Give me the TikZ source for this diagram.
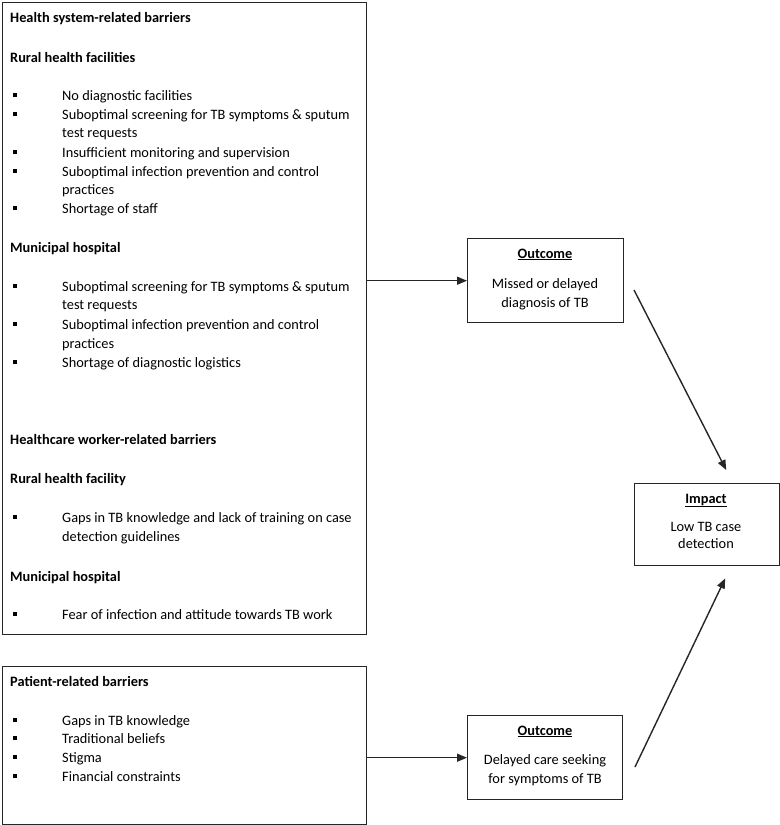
\documentclass[tikz,border=0pt]{standalone}
\usepackage{fontspec}
\setmainfont{Carlito}
\usetikzlibrary{arrows.meta}
\begin{document}
\begin{tikzpicture}[x=1bp,y=-1bp,
  txt/.style={anchor=west, inner sep=0pt, yshift=-1.5bp, font=\fontsize{14.4}{17}\selectfont, text height=10bp, text depth=3bp},
  hd/.style={txt, font=\fontsize{14.4}{17}\selectfont\bfseries},
  ctxt/.style={txt, anchor=center},
  chd/.style={hd, anchor=center},
  bul/.style={fill=black, minimum size=4.5bp, inner sep=0pt},
  box/.style={draw=black!85, line width=1.4bp, inner sep=0pt, anchor=north west},
  arr/.style={draw=black!85, line width=1.4bp, -{Triangle[length=10bp,width=8bp]}}
]
\useasboundingbox (0,0) rectangle (780,825);
% boxes
\node[box, minimum width=364bp, minimum height=632bp] (hs) at (2,2) {};
\node[box, minimum width=364bp, minimum height=158bp] (pt) at (2,666) {};
\node[box, minimum width=156bp, minimum height=84bp] (o1) at (467,238) {};
\node[box, minimum width=155bp, minimum height=84bp] (o2) at (467,715) {};
\node[box, minimum width=145bp, minimum height=82bp] (imp) at (634,483) {};

% health system box text
\node[hd] (h1) at (10,17) {Health system-related barriers};
\node[hd] (h2) at (10,57) {Rural health facilities};
\node[bul] (b1) at (15,95) {};  \node[txt] (t1) at (62,95) {No diagnostic facilities};
\node[bul] (b2) at (15,114) {}; \node[txt] (t2) at (62,114) {Suboptimal screening for TB symptoms \& sputum};
\node[txt] (t2b) at (62,132) {test requests};
\node[bul] (b3) at (15,152) {}; \node[txt] (t3) at (62,152) {Insufficient monitoring and supervision};
\node[bul] (b4) at (15,171) {}; \node[txt] (t4) at (62,171) {Suboptimal infection prevention and control};
\node[txt] (t4b) at (62,189) {practices};
\node[bul] (b5) at (15,208) {}; \node[txt] (t5) at (62,208) {Shortage of staff};

\node[hd] (h3) at (10,247) {Municipal hospital};
\node[bul] (b6) at (15,286) {}; \node[txt] (t6) at (62,286) {Suboptimal screening for TB symptoms \& sputum};
\node[txt] (t6b) at (62,304) {test requests};
\node[bul] (b7) at (15,324) {}; \node[txt] (t7) at (62,324) {Suboptimal infection prevention and control};
\node[txt] (t7b) at (62,343) {practices};
\node[bul] (b8) at (15,362) {}; \node[txt] (t8) at (62,362) {Shortage of diagnostic logistics};

\node[hd] (h4) at (10,439) {Healthcare worker-related barriers};
\node[hd] (h5) at (10,478) {Rural health facility};
\node[bul] (b9) at (15,517) {}; \node[txt] (t9) at (62,517) {Gaps in TB knowledge and lack of training on case};
\node[txt] (t9b) at (62,536) {detection guidelines};
\node[hd] (h6) at (10,576) {Municipal hospital};
\node[bul] (b10) at (15,614) {}; \node[txt] (t10) at (62,614) {Fear of infection and attitude towards TB work};

% patient box text
\node[hd] (h7) at (10,681) {Patient-related barriers};
\node[bul] (b11) at (15,720) {}; \node[txt] (t11) at (62,720) {Gaps in TB knowledge};
\node[bul] (b12) at (15,738) {}; \node[txt] (t12) at (62,738) {Traditional beliefs};
\node[bul] (b13) at (15,757) {}; \node[txt] (t13) at (62,757) {Stigma};
\node[bul] (b14) at (15,776) {}; \node[txt] (t14) at (62,776) {Financial constraints};

% outcome 1
\node[chd] (o1h) at (545,253) {\underline{Outcome}};
\node[ctxt] (o1a) at (545,283) {Missed or delayed};
\node[ctxt] (o1b) at (545,302) {diagnosis of TB};
% outcome 2
\node[chd] (o2h) at (545,730) {\underline{Outcome}};
\node[ctxt] (o2a) at (545,759) {Delayed care seeking};
\node[ctxt] (o2b) at (545,778) {for symptoms of TB};
% impact
\node[chd] (imh) at (706,498) {\underline{Impact}};
\node[ctxt] (ima) at (706,526) {Low TB case};
\node[ctxt] (imb) at (706,543) {detection};

% connectors
\draw[arr] (o1.west -| hs.east) -- (o1.west);
\draw[arr] (o2.west -| pt.east) -- (o2.west);
\coordinate (d1) at (634,290);
\coordinate (d2) at (635,767);
\draw[arr] (d1) -- ([xshift=19bp,yshift=13bp]imp.north);
\draw[arr] (d2) -- ([xshift=18bp,yshift=-12bp]imp.south);
\end{tikzpicture}
\end{document}
